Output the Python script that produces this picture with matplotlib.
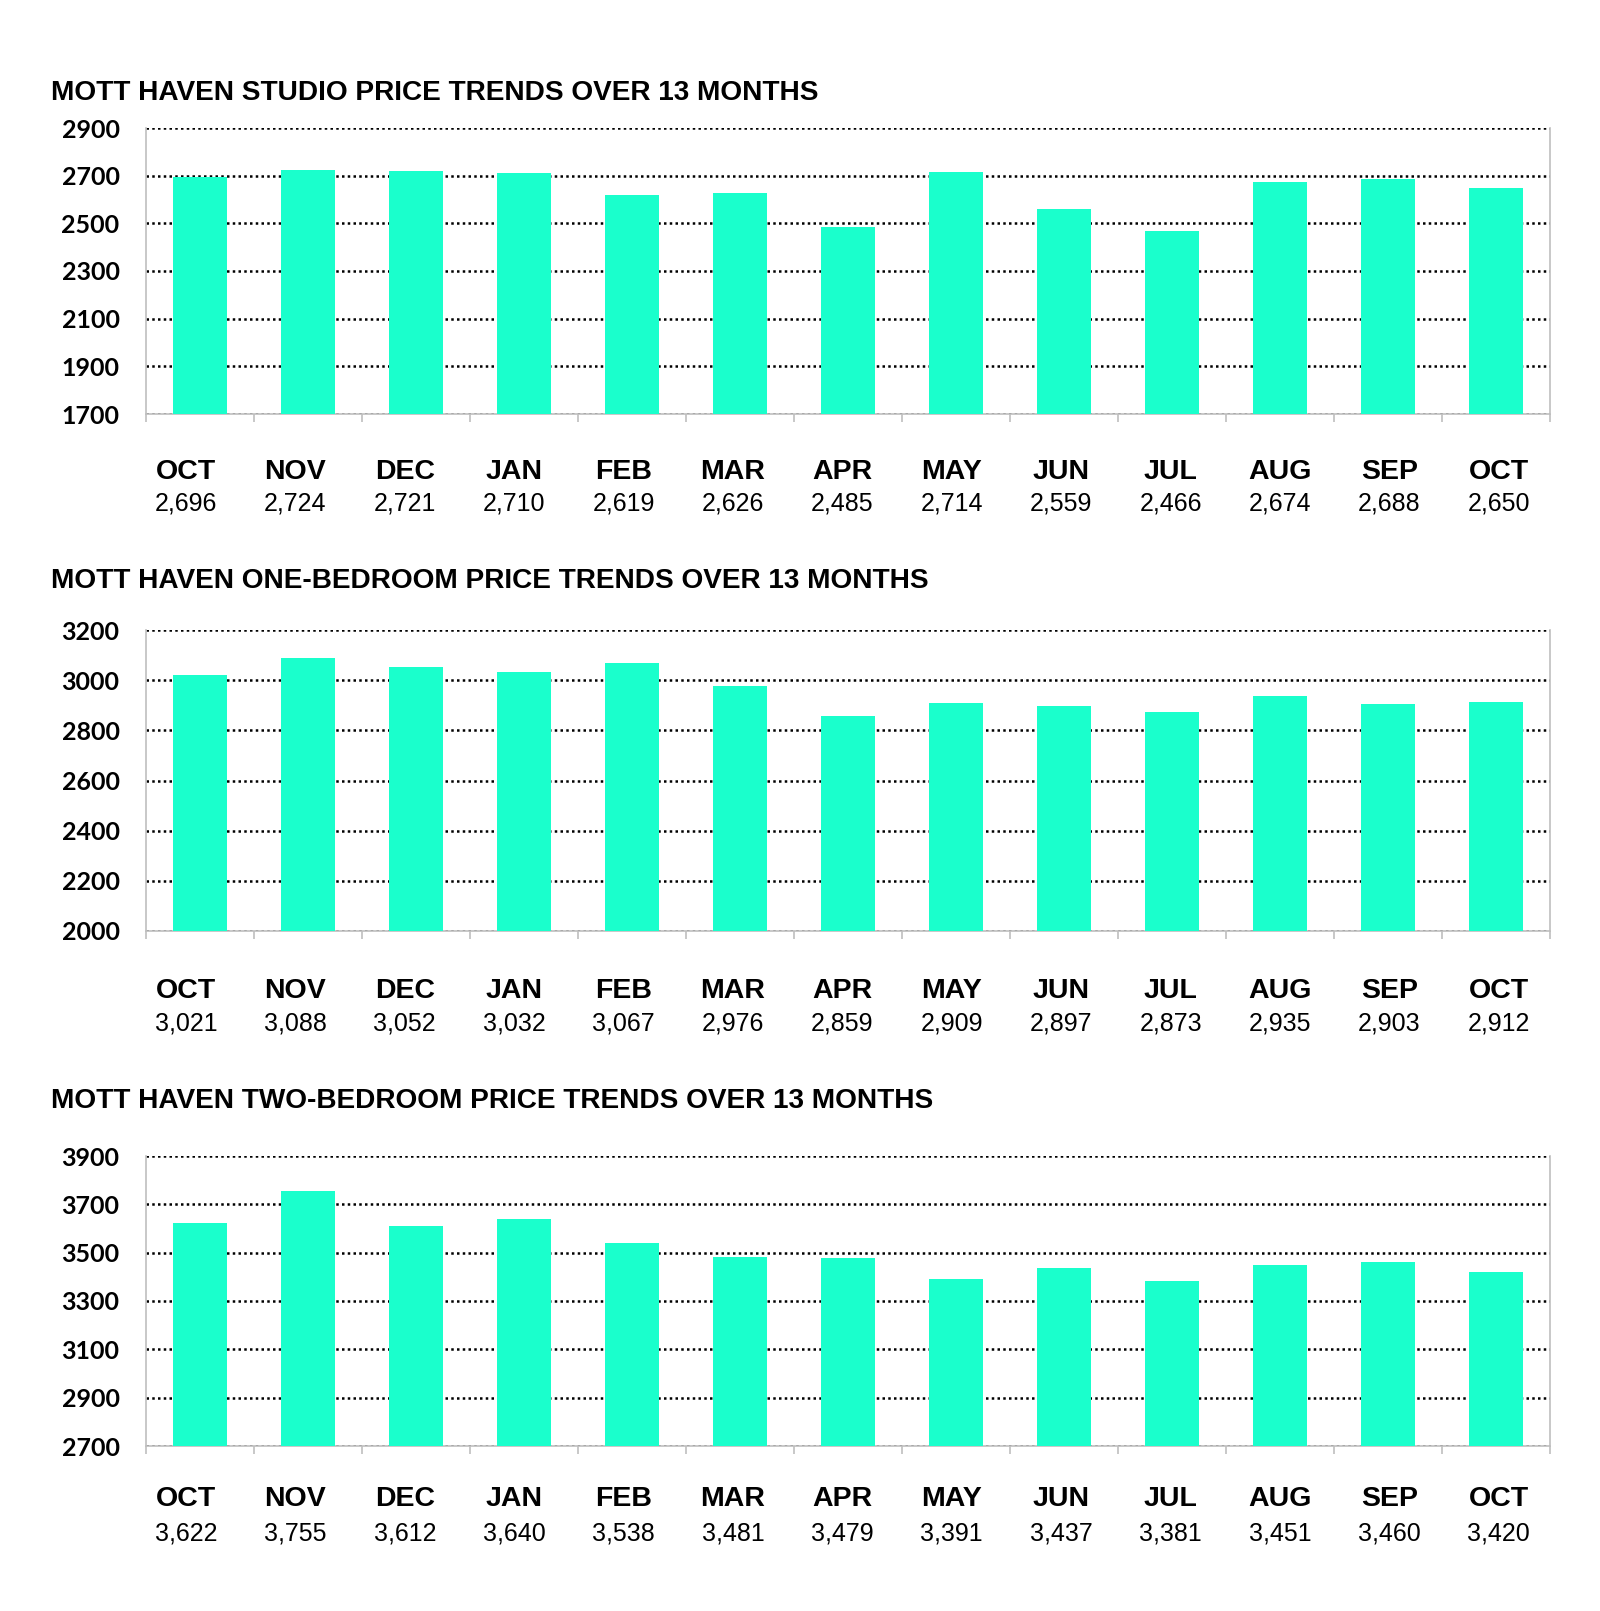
import numpy as np
import matplotlib.pyplot as plt

months = ['OCT', 'NOV', 'DEC', 'JAN', 'FEB', 'MAR', 'APR', 'MAY', 'JUN', 'JUL', 'AUG', 'SEP', 'OCT']

studio = [2696, 2724, 2721, 2710, 2619, 2626, 2485, 2714, 2559, 2466, 2674, 2688, 2650]
one_bed = [3021, 3088, 3052, 3032, 3067, 2976, 2859, 2909, 2897, 2873, 2935, 2903, 2912]
two_bed = [3622, 3755, 3612, 3640, 3538, 3481, 3479, 3391, 3437, 3381, 3451, 3460, 3420]

titles = ['MOTT HAVEN STUDIO PRICE TRENDS OVER 13 MONTHS',
          'MOTT HAVEN ONE-BEDROOM PRICE TRENDS OVER 13 MONTHS',
          'MOTT HAVEN TWO-BEDROOM PRICE TRENDS OVER 13 MONTHS']
yticks = [np.arange(1700, 2901, 200), np.arange(2000, 3201, 200), np.arange(2700, 3901, 200)]
series = [studio, one_bed, two_bed]

BAR = '#1AFFCC'
W, H = 1600, 1611

fig = plt.figure(figsize=(16, 16.11), dpi=100)

# axes boxes in pixels: (top, bottom), title y, month y, value y
boxes = [(128, 414, 93, 472, 504),
         (630, 931, 581, 991, 1024),
         (1156, 1446, 1101, 1499, 1533)]
left, right = 146, 1550
# month labels sit on their own grid, a bit wider than the bars
lab_x0, lab_dx = 186, 109.4

for i in range(3):
    top, bot, ty, my, vy = boxes[i]
    ax = fig.add_axes([left / W, 1 - bot / H, (right - left) / W, (bot - top) / H])
    x = np.arange(len(months))
    ax.bar(x, series[i], width=0.5, color=BAR, zorder=3)
    ax.set_xlim(-0.5, len(months) - 0.5)
    ax.set_ylim(yticks[i][0], yticks[i][-1])
    ax.set_yticks(yticks[i])
    ax.set_yticklabels([str(v) for v in yticks[i]], fontfamily='Lato',
                       fontweight='bold', fontsize=18)
    ax.tick_params(axis='y', length=0, pad=19)
    ax.set_xticks([])
    ax.set_xticks(np.arange(-0.5, len(months)), minor=True)
    ax.tick_params(axis='x', which='minor', length=6, color='#bfbfbf', width=1.2)
    ax.yaxis.grid(True, color='black', linestyle=(0, (1, 1.3)), linewidth=1.8, zorder=1)
    ax.set_axisbelow(True)
    for s in ['left', 'bottom', 'right']:
        ax.spines[s].set_color('#bfbfbf')
        ax.spines[s].set_linewidth(1.2)
    ax.spines['top'].set_visible(False)

    for j, m in enumerate(months):
        xp = (lab_x0 + lab_dx * j) / W
        fig.text(xp, 1 - my / H, m, ha='center', va='center',
                 fontfamily='Liberation Sans', fontweight='bold', fontsize=20.5)
        fig.text(xp, 1 - vy / H, f'{series[i][j]:,}', ha='center', va='center',
                 fontfamily='Liberation Sans', fontsize=18)

    fig.text(51 / W, 1 - ty / H, titles[i], ha='left', va='center',
             fontfamily='Liberation Sans', fontweight='bold', fontsize=20.2)

fig.savefig('out.png', dpi=100, facecolor='white')
